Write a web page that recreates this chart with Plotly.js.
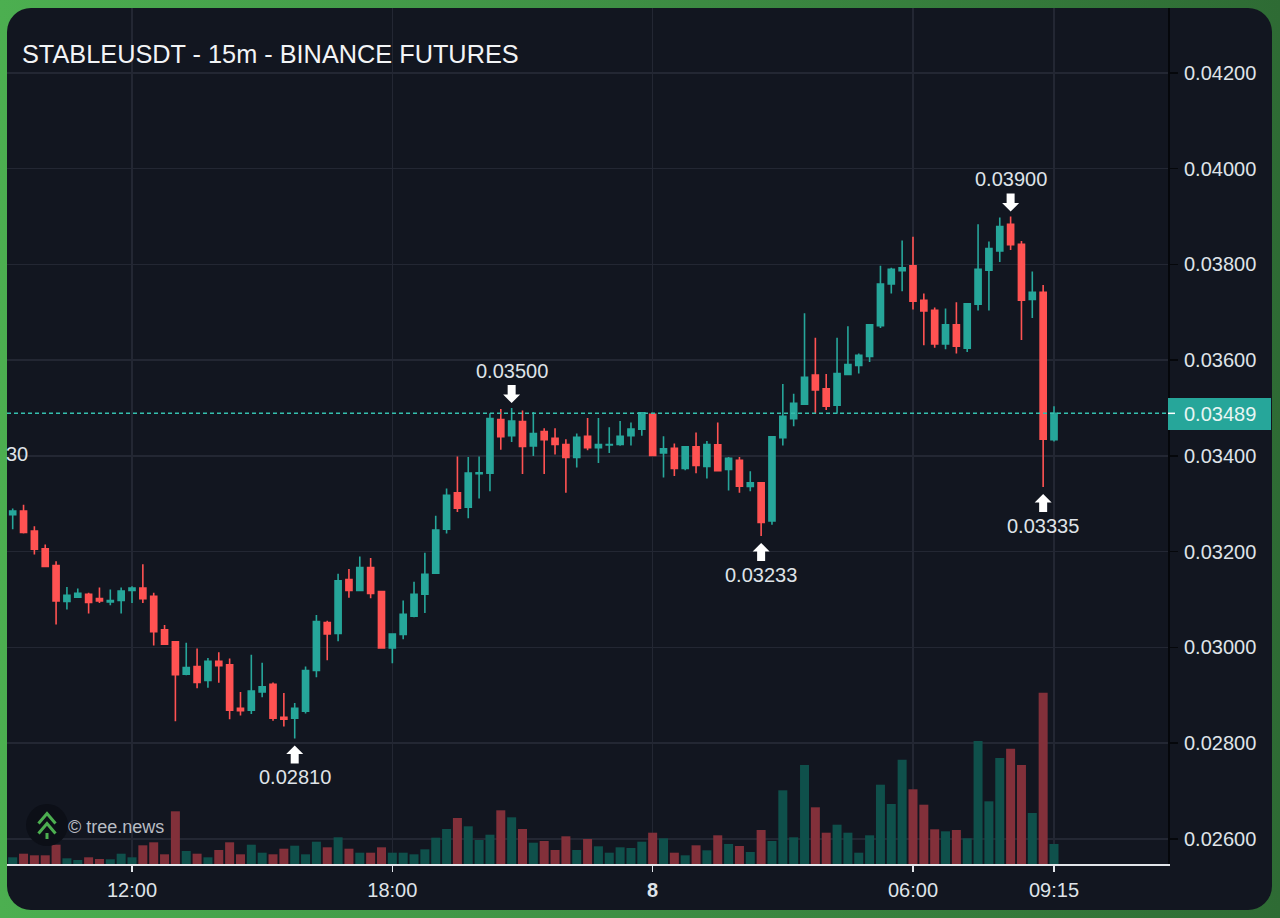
<!DOCTYPE html>
<html><head><meta charset="utf-8">
<script src="https://cdn.plot.ly/plotly-3.0.1.min.js"></script>
<style>
html,body{margin:0;padding:0;width:1280px;height:918px;overflow:hidden;background:linear-gradient(to right,#4caf50 0%,#3f9145 45%,#2e6b34 100%);}
#panel{position:absolute;left:7px;top:8px;width:1265px;height:902px;background:#121620;border-radius:24px;}
#chart{position:absolute;left:0;top:0;width:1280px;height:918px;}
</style></head><body>
<div id="panel"></div><div id="chart"></div>
<script>
const times = [
'2025-12-07 09:15','2025-12-07 09:30','2025-12-07 09:45','2025-12-07 10:00','2025-12-07 10:15','2025-12-07 10:30','2025-12-07 10:45','2025-12-07 11:00','2025-12-07 11:15','2025-12-07 11:30','2025-12-07 11:45',
'2025-12-07 12:00','2025-12-07 12:15','2025-12-07 12:30','2025-12-07 12:45','2025-12-07 13:00','2025-12-07 13:15','2025-12-07 13:30','2025-12-07 13:45','2025-12-07 14:00','2025-12-07 14:15','2025-12-07 14:30','2025-12-07 14:45',
'2025-12-07 15:00','2025-12-07 15:15','2025-12-07 15:30','2025-12-07 15:45','2025-12-07 16:00','2025-12-07 16:15','2025-12-07 16:30','2025-12-07 16:45','2025-12-07 17:00','2025-12-07 17:15','2025-12-07 17:30','2025-12-07 17:45',
'2025-12-07 18:00','2025-12-07 18:15','2025-12-07 18:30','2025-12-07 18:45','2025-12-07 19:00','2025-12-07 19:15','2025-12-07 19:30','2025-12-07 19:45','2025-12-07 20:00','2025-12-07 20:15','2025-12-07 20:30','2025-12-07 20:45',
'2025-12-07 21:00','2025-12-07 21:15','2025-12-07 21:30','2025-12-07 21:45','2025-12-07 22:00','2025-12-07 22:15','2025-12-07 22:30','2025-12-07 22:45','2025-12-07 23:00','2025-12-07 23:15','2025-12-07 23:30','2025-12-07 23:45',
'2025-12-08 00:00','2025-12-08 00:15','2025-12-08 00:30','2025-12-08 00:45','2025-12-08 01:00','2025-12-08 01:15','2025-12-08 01:30','2025-12-08 01:45','2025-12-08 02:00','2025-12-08 02:15','2025-12-08 02:30','2025-12-08 02:45',
'2025-12-08 03:00','2025-12-08 03:15','2025-12-08 03:30','2025-12-08 03:45','2025-12-08 04:00','2025-12-08 04:15','2025-12-08 04:30','2025-12-08 04:45','2025-12-08 05:00','2025-12-08 05:15','2025-12-08 05:30','2025-12-08 05:45',
'2025-12-08 06:00','2025-12-08 06:15','2025-12-08 06:30','2025-12-08 06:45','2025-12-08 07:00','2025-12-08 07:15','2025-12-08 07:30','2025-12-08 07:45','2025-12-08 08:00','2025-12-08 08:15','2025-12-08 08:30','2025-12-08 08:45',
'2025-12-08 09:00','2025-12-08 09:15'];
const opens = [0.03277,0.03285,0.03243,0.03206,0.03171,0.03096,0.03105,0.03111,0.03102,0.03095,0.03098,0.03119,0.03124,0.03107,0.03037,0.03012,0.02944,0.02960,0.02931,0.02971,
0.02964,0.02873,0.02869,0.02907,0.02923,0.02854,0.02852,0.02867,0.02952,0.03052,0.03029,0.03142,0.03119,0.03167,0.03117,0.02999,0.03027,0.03065,0.03111,0.03155,
0.03247,0.03323,0.03293,0.03363,0.03364,0.03476,0.03442,0.03472,0.03421,0.03451,0.03437,0.03424,0.03397,0.03441,0.03417,0.03423,0.03424,0.03442,0.03456,0.03487,
0.03406,0.03416,0.03374,0.03419,0.03378,0.03423,0.03372,0.03391,0.03336,0.03344,0.03264,0.03438,0.03478,0.03508,0.03569,0.03540,0.03506,0.03570,0.03589,0.03608,
0.03672,0.03759,0.03787,0.03797,0.03725,0.03704,0.03634,0.03674,0.03625,0.03717,0.03788,0.03828,0.03884,0.03842,0.03727,0.03742,0.03434];
const highs = [0.03290,0.03298,0.03253,0.03215,0.03180,0.03126,0.03123,0.03114,0.03125,0.03121,0.03125,0.03128,0.03174,0.03114,0.03047,0.03012,0.03010,0.02998,0.02978,0.02990,
0.02977,0.02907,0.02985,0.02968,0.02927,0.02905,0.02884,0.02960,0.03068,0.03056,0.03154,0.03164,0.03190,0.03187,0.03117,0.03028,0.03098,0.03137,0.03198,0.03275,
0.03332,0.03399,0.03398,0.03399,0.03489,0.03498,0.03500,0.03495,0.03492,0.03458,0.03458,0.03435,0.03447,0.03479,0.03479,0.03460,0.03473,0.03470,0.03490,0.03490,
0.03441,0.03426,0.03419,0.03449,0.03431,0.03470,0.03398,0.03398,0.03368,0.03344,0.03440,0.03550,0.03530,0.03698,0.03647,0.03571,0.03647,0.03671,0.03614,0.03674,
0.03797,0.03793,0.03850,0.03858,0.03739,0.03710,0.03708,0.03721,0.03718,0.03884,0.03848,0.03898,0.03900,0.03849,0.03785,0.03757,0.03504];
const lows = [0.03247,0.03238,0.03194,0.03168,0.03048,0.03079,0.03104,0.03071,0.03093,0.03088,0.03071,0.03093,0.03093,0.03004,0.03007,0.02846,0.02942,0.02915,0.02916,0.02926,
0.02850,0.02858,0.02861,0.02896,0.02847,0.02835,0.02810,0.02862,0.02938,0.02973,0.03013,0.03104,0.03118,0.03103,0.02999,0.02967,0.03017,0.03063,0.03072,0.03155,
0.03238,0.03283,0.03270,0.03311,0.03326,0.03413,0.03429,0.03362,0.03400,0.03362,0.03403,0.03323,0.03376,0.03412,0.03385,0.03406,0.03421,0.03422,0.03442,0.03400,
0.03355,0.03358,0.03370,0.03364,0.03353,0.03368,0.03328,0.03323,0.03326,0.03233,0.03256,0.03422,0.03462,0.03508,0.03488,0.03496,0.03488,0.03569,0.03572,0.03596,
0.03667,0.03739,0.03744,0.03706,0.03631,0.03626,0.03623,0.03614,0.03617,0.03704,0.03704,0.03805,0.03830,0.03642,0.03688,0.03335,0.03430];
const closes = [0.03285,0.03240,0.03205,0.03169,0.03097,0.03109,0.03113,0.03094,0.03097,0.03098,0.03118,0.03124,0.03102,0.03033,0.03007,0.02943,0.02958,0.02927,0.02971,0.02962,
0.02869,0.02868,0.02909,0.02918,0.02852,0.02850,0.02873,0.02952,0.03054,0.03028,0.03139,0.03119,0.03167,0.03113,0.02999,0.03028,0.03069,0.03111,0.03153,0.03245,
0.03318,0.03291,0.03364,0.03365,0.03478,0.03440,0.03473,0.03420,0.03447,0.03434,0.03424,0.03397,0.03439,0.03417,0.03424,0.03424,0.03441,0.03456,0.03490,0.03401,
0.03415,0.03374,0.03419,0.03380,0.03424,0.03369,0.03395,0.03337,0.03344,0.03261,0.03440,0.03483,0.03510,0.03564,0.03538,0.03504,0.03572,0.03591,0.03610,0.03674,
0.03759,0.03790,0.03793,0.03723,0.03703,0.03634,0.03674,0.03629,0.03718,0.03790,0.03833,0.03879,0.03841,0.03725,0.03742,0.03435,0.03489];
const volumes = [6.7,10.3,8.7,8.7,19.3,5.7,4,6.7,5,4.7,10.3,6.7,18.7,21.7,9.7,52.7,13,10.3,6.7,14,
21.7,9.7,19.3,11.3,9.7,15.3,18.3,9.7,22.3,16.7,26.7,15.3,11.3,11.3,16.7,11.3,11.3,9.7,14.7,26.3,
35,46,37.7,24,29.3,53.7,46.7,35,21.3,23,14,27.7,14,25,17.7,11.3,16.7,16,22.3,31.3,
25.7,11.3,8.7,18.7,13.7,28.7,20,18,12,34,23,73.7,26.7,99,56.7,31.3,39.3,31.3,11.3,28.7,
79.3,60,104.3,74.7,59.3,34.7,32.7,34,25.7,123,62.7,106,115.3,99,51,171.3,20];
const priceTicks = [0.026,0.028,0.030,0.032,0.034,0.036,0.038,0.040,0.042];
const timeTickVals = ['2025-12-07 12:00','2025-12-07 18:00','2025-12-08 00:00','2025-12-08 06:00','2025-12-08 09:15'];
const timeTickText = ['12:00','18:00','<b>8</b>','06:00','09:15'];
const upMarks = [['2025-12-07 15:45',0.02810],['2025-12-08 02:30',0.03233],['2025-12-08 09:00',0.03335]];
const downMarks = [['2025-12-07 20:45',0.03500],['2025-12-08 08:15',0.03900]];
const lastPrice = 0.03489;

const TEAL='#26a69a', RED='#ff5252';
const FONT='"Liberation Sans", Arial, sans-serif';
const TXT='#dfe3e8';
const PW=1161, PH=856, ML=7, MT=8;
const fx=p=>(p-ML)/PW, fy=p=>1-(p-MT)/PH;

const volColors = closes.map((c,i)=> c>=opens[i] ? '#0f504b' : '#82303a');

const traces = [
 {type:'bar',x:times,y:volumes,yaxis:'y2',marker:{color:volColors,line:{width:0}},hoverinfo:'skip',showlegend:false},
 {type:'candlestick',x:times,open:opens,high:highs,low:lows,close:closes,whiskerwidth:0,
  increasing:{line:{color:TEAL,width:1.6},fillcolor:TEAL},
  decreasing:{line:{color:RED,width:1.6},fillcolor:RED},showlegend:false}
];

const arrowPath = d => d>0
  ? 'M0,5 L-8.5,13.5 L-4,13.5 L-4,23 L4,23 L4,13.5 L8.5,13.5 Z'
  : 'M0,-7 L-8.5,-15.5 L-4,-15.5 L-4,-25 L4,-25 L4,-15.5 L8.5,-15.5 Z';
const arrowShape=(m,d)=>({type:'path',layer:'above',xref:'x',yref:'y',xsizemode:'pixel',ysizemode:'pixel',
  xanchor:m[0],yanchor:m[1],path:arrowPath(d),fillcolor:'#ffffff',line:{width:0}});
const markLabel=(m,d)=>({xref:'x',yref:'y',x:m[0],y:m[1],text:m[1].toFixed(5),showarrow:false,
  xanchor:'center',yanchor:'middle',yshift:d>0?37.5:-39,font:{family:FONT,size:20,color:TXT}});

const chevron=(top)=>`M${fx(38.5)},${fy(top+10)} L${fx(47)},${fy(top)} L${fx(55.5)},${fy(top+10)}`;

const shapes = [
 {type:'line',layer:'above',xref:'paper',yref:'y',x0:0,x1:1,y0:lastPrice,y1:lastPrice,line:{color:'#35bfae',width:1.6,dash:'4px,3px'}},
 {type:'rect',layer:'above',xref:'paper',yref:'y',ysizemode:'pixel',yanchor:lastPrice,x0:1,x1:fx(1271),y0:-16.7,y1:15.3,fillcolor:TEAL,line:{width:0}},
 {type:'line',layer:'above',xref:'paper',yref:'y',x0:1,x1:fx(1175),y0:lastPrice,y1:lastPrice,line:{color:'#ffffff',width:1.5}},
 {type:'circle',layer:'above',xref:'paper',yref:'paper',x0:fx(26),x1:fx(68),y0:fy(846),y1:fy(804),fillcolor:'#0c0f17',line:{width:0}},
 {type:'path',layer:'above',xref:'paper',yref:'paper',path:chevron(813.5),line:{color:'#4caf50',width:3}},
 {type:'path',layer:'above',xref:'paper',yref:'paper',path:chevron(823.5),line:{color:'#4caf50',width:3}},
 {type:'line',layer:'above',xref:'paper',yref:'paper',x0:fx(47),x1:fx(47),y0:fy(833),y1:fy(839),line:{color:'#4caf50',width:3}},
 ...upMarks.map(m=>arrowShape(m,-1)),
 ...downMarks.map(m=>arrowShape(m,1))
];

const annotations = [
 ...upMarks.map(m=>markLabel(m,-1)),
 ...downMarks.map(m=>markLabel(m,1)),
 {xref:'paper',yref:'y',x:1,y:lastPrice,xshift:52,yshift:-0.5,text:lastPrice.toFixed(5),showarrow:false,xanchor:'center',yanchor:'middle',font:{family:FONT,size:20,color:'#e8f5f3'}},
 {xref:'paper',yref:'paper',x:fx(6),y:fy(454),text:'30',showarrow:false,xanchor:'left',yanchor:'middle',xshift:-2,font:{family:FONT,size:20,color:TXT}},
 {xref:'paper',yref:'paper',x:fx(68),y:fy(827),text:'© tree.news',showarrow:false,xanchor:'left',yanchor:'middle',xshift:-2,font:{family:FONT,size:18,color:'#b9bdc4'}}
];

const layout = {
 width:1280,height:918,
 margin:{l:ML,r:1280-1168,t:MT,b:918-864,pad:0},
 paper_bgcolor:'rgba(0,0,0,0)',plot_bgcolor:'rgba(0,0,0,0)',
 showlegend:false,boxgap:0.2,bargap:0.17,
 title:{text:'STABLEUSDT - 15m - BINANCE FUTURES',x:22/1280,y:1-54/918,xref:'container',yref:'container',xanchor:'left',yanchor:'middle',font:{family:FONT,size:25.3,color:'#f2f4f6'}},
 xaxis:{type:'date',range:['2025-12-07 09:07:08','2025-12-08 11:52:39'],rangeslider:{visible:false},
  tickmode:'array',tickvals:timeTickVals,ticktext:timeTickText,tickfont:{family:FONT,size:20,color:TXT},
  showgrid:true,gridcolor:'#232733',gridwidth:1.5,zeroline:false,
  showline:true,linecolor:'#e2e5ea',linewidth:2,ticks:'outside',ticklen:6,tickcolor:'#e2e5ea',tickwidth:1.5,ticklabelstandoff:1},
 yaxis:{side:'right',range:[0.025477,0.0433555],tickmode:'array',tickvals:priceTicks,ticktext:priceTicks.map(v=>v.toFixed(5)),
  tickfont:{family:FONT,size:20,color:TXT},showgrid:true,gridcolor:'#232733',gridwidth:1.5,zeroline:false,
  showline:true,linecolor:'#05070b',linewidth:2,ticks:'outside',ticklen:8,tickcolor:'#05070b',tickwidth:1.5,ticklabelstandoff:2},
 yaxis2:{overlaying:'y',side:'left',range:[0,PH],visible:false,showgrid:false,zeroline:false,fixedrange:true},
 shapes,annotations
};
Plotly.newPlot('chart',traces,layout,{displayModeBar:false,staticPlot:true});
</script></body></html>
